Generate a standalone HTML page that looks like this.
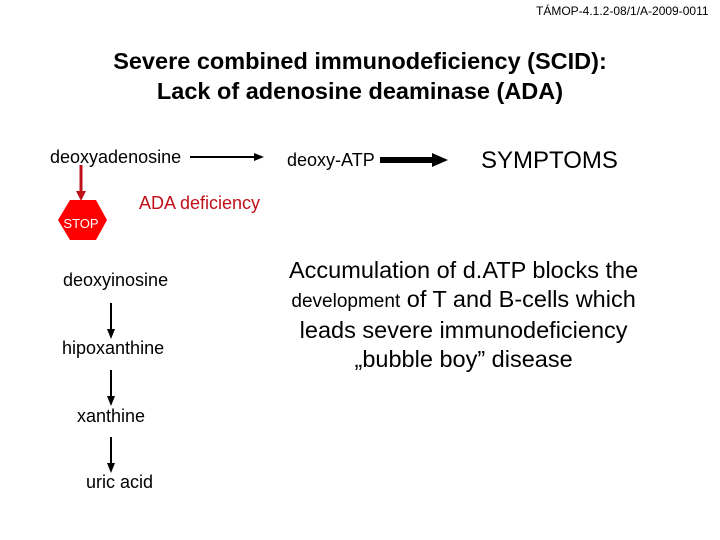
<!DOCTYPE html>
<html><head><style>
body{margin:0;width:720px;height:540px;background:#fff;position:relative;font-family:"Liberation Sans",Arial,sans-serif;overflow:hidden}
.t{position:absolute;white-space:nowrap;color:#000}
</style></head><body>
<div class="t" style="left:536px;top:4px;font-size:12px">TÁMOP-4.1.2-08/1/A-2009-0011</div>
<div class="t" style="left:0;width:720px;text-align:center;top:46px;font-size:23.5px;line-height:30px;font-weight:bold">Severe combined immunodeficiency (SCID):<br>Lack of adenosine deaminase (ADA)</div>
<div class="t" style="left:50px;top:147px;font-size:18px">deoxyadenosine</div>
<div class="t" style="left:287px;top:150px;font-size:18px">deoxy-ATP</div>
<div class="t" style="left:481px;top:147px;font-size:24px">SYMPTOMS</div>
<div class="t" style="left:139px;top:193px;font-size:18px;color:#c0101a">ADA deficiency</div>
<div class="t" style="left:63px;top:270px;font-size:18px">deoxyinosine</div>
<div class="t" style="left:62px;top:338px;font-size:18px">hipoxanthine</div>
<div class="t" style="left:77px;top:406px;font-size:18px">xanthine</div>
<div class="t" style="left:86px;top:472px;font-size:18px">uric acid</div>
<div class="t" style="left:289px;top:256px;font-size:23.5px;line-height:29px;text-align:center">Accumulation of d.ATP blocks the<br><span style="font-size:19px">development</span> of T and B-cells which<br>leads severe immunodeficiency<br>„bubble boy” disease</div>
<svg width="720" height="540" style="position:absolute;left:0;top:0">
<line x1="190" y1="157" x2="255" y2="157" stroke="#000" stroke-width="2"/>
<polygon points="254,153 264,157 254,161" fill="#000"/>
<line x1="380" y1="160" x2="436" y2="160" stroke="#000" stroke-width="6"/>
<polygon points="432,153 448,160 432,167" fill="#000"/>
<line x1="81" y1="165" x2="81" y2="192" stroke="#c0101a" stroke-width="3"/>
<polygon points="76,191 81,201 86,191" fill="#c0101a"/>
<polygon points="70,200 96,200 107,220 96,240 70,240 58,220" fill="#f00"/>
<text x="81" y="228" font-family="Liberation Sans,sans-serif" font-size="13" fill="#fff" text-anchor="middle">STOP</text>
<g stroke="#000" stroke-width="2">
<line x1="111" y1="303" x2="111" y2="330"/><line x1="111" y1="370" x2="111" y2="397"/><line x1="111" y1="437" x2="111" y2="464"/>
</g>
<polygon points="107,329 111,339 115,329" fill="#000"/>
<polygon points="107,396 111,406 115,396" fill="#000"/>
<polygon points="107,463 111,473 115,463" fill="#000"/>
</svg>
</body></html>
